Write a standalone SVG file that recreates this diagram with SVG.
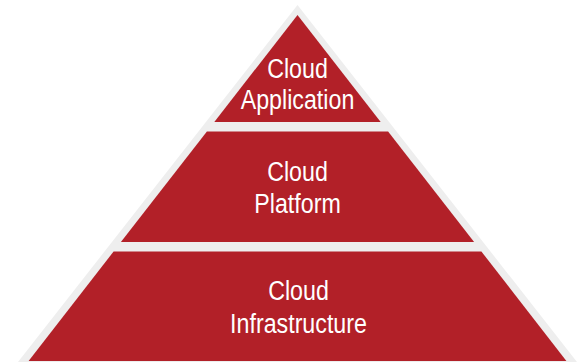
<svg xmlns="http://www.w3.org/2000/svg" width="585" height="364" viewBox="0 0 585 364">
  <style>
    .layer { fill: #b22028; }
    .lbl { font-family: "Liberation Sans", Arial, sans-serif; font-size: 28px; fill: #ffffff; text-anchor: middle; }
  </style>
  <rect width="585" height="364" fill="#ffffff"/>
  <polygon id="backdrop" points="297.5,5 577,362 18,362" fill="#eeeeee"/>
  <g id="connectors"></g>
  <g id="cloud-application">
    <polygon class="layer" points="297.5,15 380.7,122 214.3,122"/>
    <g transform="translate(297.5,0) scale(0.83,1)">
      <text class="lbl" x="0" y="78.5">Cloud</text>
      <text class="lbl" x="0" y="109.5">Application</text>
    </g>
  </g>
  <g id="cloud-platform">
    <polygon class="layer" points="206.9,131.5 388.1,131.5 474.1,242 120.9,242"/>
    <g transform="translate(297.5,0) scale(0.83,1)">
      <text class="lbl" x="0" y="181">Cloud</text>
      <text class="lbl" x="0" y="213.3">Platform</text>
    </g>
  </g>
  <g id="cloud-infrastructure">
    <polygon class="layer" points="113.6,251.5 481.4,251.5 566.4,361 28.6,361"/>
    <g transform="translate(298.5,0) scale(0.83,1)">
      <text class="lbl" x="0" y="300">Cloud</text>
      <text class="lbl" x="0" y="333.3">Infrastructure</text>
    </g>
  </g>
</svg>
